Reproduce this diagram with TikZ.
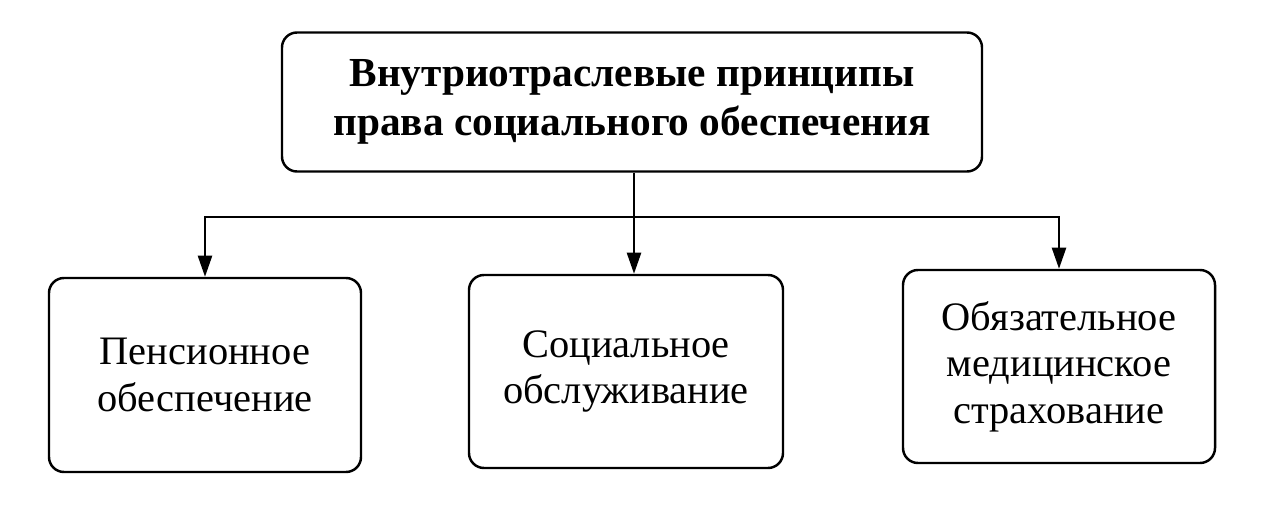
\documentclass[tikz,border=0pt]{standalone}
\usepackage{fontspec}
\setmainfont{Liberation Serif}
\usetikzlibrary{arrows.meta}

\tikzset{
  box/.style={draw, line width=1.4pt, rounded corners=0.3cm, align=center,
              font=\fontsize{23}{26.5}\selectfont},
  arr/.style={-{Triangle[width=8pt,length=12pt]}, line width=1.3pt}
}

\begin{document}
\begin{tikzpicture}
      \useasboundingbox (0,0) rectangle (25.64,-10.14);
      \node[box, minimum width=14.0cm, minimum height=2.78cm,
            font=\fontsize{23.5}{27.5}\selectfont\bfseries]
            (TOP) at (12.64,-2.04)
            {Внутриотраслевые принципы\\права социального обеспечения};
      \node[box, minimum width=6.24cm, minimum height=3.88cm]
            (PENS) at (4.10,-7.50) {Пенсионное\\обеспечение};
      \node[box, minimum width=6.28cm, minimum height=3.86cm]
            (SOC) at (12.52,-7.43) {Социальное\\обслуживание};
      \node[box, minimum width=6.24cm, minimum height=3.86cm]
            (MED) at (21.18,-7.33) {Обязательное\\медицинское\\страхование};
      \coordinate (J) at (12.68,-4.34);
      \draw[arr] (TOP.south -| J) -- (SOC.north -| J);
      \draw[arr] (J) -| (PENS.north);
      \draw[arr] (J) -| (MED.north);
\end{tikzpicture}
\end{document}
